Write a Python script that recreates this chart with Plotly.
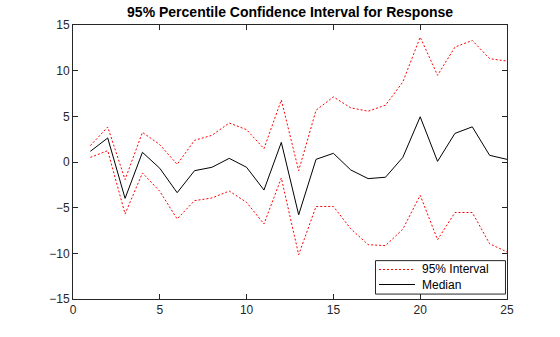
import plotly.graph_objects as go

x = list(range(1, 26))
median = [1.17, 2.63, -3.98, 1.06, -0.69, -3.36, -0.95, -0.58, 0.40, -0.58, -3.07, 2.15,
          -5.78, 0.29, 0.95, -0.87, -1.82, -1.67, 0.51, 4.95, 0.07, 3.13, 3.85, 0.73, 0.29]
upper = [1.79, 3.83, -1.93, 3.25, 1.90, -0.26, 2.37, 2.92, 4.27, 3.54, 1.46, 6.79,
         -0.95, 5.67, 7.13, 5.93, 5.56, 6.22, 8.76, 13.67, 9.49, 12.58, 13.31, 11.31, 11.05]
lower = [0.51, 1.24, -5.69, -1.20, -3.21, -6.24, -4.23, -3.94, -3.18, -4.42, -6.79, -1.75,
         -10.15, -4.87, -4.87, -7.31, -9.05, -9.16, -7.35, -3.64, -8.51, -5.53, -5.53, -8.95, -9.85]

legend_labels = ["95% Interval", "Median"]
title = "95% Percentile Confidence Interval for Response"
font = "Liberation Sans, Arial, Helvetica, sans-serif"
dot = "2px,2px"

fig = go.Figure()
fig.add_trace(go.Scatter(x=x, y=upper, mode="lines", name=legend_labels[0],
                         line=dict(color="red", width=1, dash=dot)))
fig.add_trace(go.Scatter(x=x, y=median, mode="lines", name=legend_labels[1],
                         line=dict(color="black", width=1)))
fig.add_trace(go.Scatter(x=x, y=lower, mode="lines", name="lower",
                         line=dict(color="red", width=1, dash=dot)))

axis_common = dict(showgrid=False, zeroline=False, showline=True, linecolor="#262626",
                   linewidth=1, mirror="ticks", ticks="inside", ticklen=5,
                   tickcolor="#262626", tickfont=dict(family=font, size=12, color="#262626"))

# manual legend box (paper coordinates of the plot area)
shapes = [
    dict(type="rect", xref="paper", yref="paper", x0=0.697, x1=0.9965, y0=0.018, y1=0.140,
         line=dict(color="#262626", width=1), fillcolor="white", layer="above"),
    dict(type="line", xref="paper", yref="paper", x0=0.705, x1=0.788, y0=0.1077, y1=0.1077,
         line=dict(color="red", width=1, dash=dot), layer="above"),
    dict(type="line", xref="paper", yref="paper", x0=0.705, x1=0.788, y0=0.0529, y1=0.0529,
         line=dict(color="black", width=1), layer="above"),
]
annotations = [
    dict(text=legend_labels[0], xref="paper", yref="paper", x=0.800, y=0.1077,
         xanchor="left", yanchor="middle", showarrow=False,
         font=dict(family=font, size=12, color="black")),
    dict(text=legend_labels[1], xref="paper", yref="paper", x=0.800, y=0.0529,
         xanchor="left", yanchor="middle", showarrow=False,
         font=dict(family=font, size=12, color="black")),
]

fig.update_layout(
    width=560, height=337,
    margin=dict(l=73, r=53, t=25, b=38),
    paper_bgcolor="white", plot_bgcolor="white",
    title=dict(text="<b>" + title + "</b>", x=0.518, xanchor="center", y=0.965, yanchor="middle",
               font=dict(family=font, size=14, color="black")),
    xaxis=dict(range=[0, 25], tickvals=[0, 5, 10, 15, 20, 25], **axis_common),
    yaxis=dict(range=[-15, 15], tickvals=[-15, -10, -5, 0, 5, 10, 15], **axis_common),
    shapes=shapes, annotations=annotations,
    showlegend=False,
)

fig.write_html("out.html")
